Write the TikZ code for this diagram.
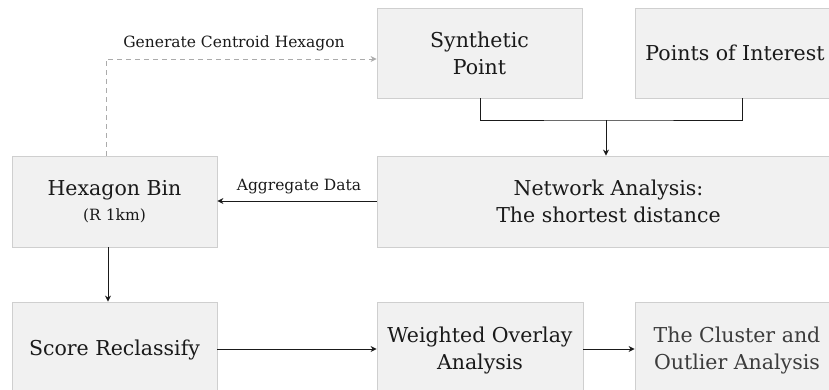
\documentclass[tikz,border=0pt]{standalone}
\usepackage{fontspec}
\setmainfont{DejaVu Serif}
\usetikzlibrary{arrows.meta}
\definecolor{boxfill}{HTML}{F1F1F1}
\definecolor{boxline}{HTML}{CFCFCF}
\definecolor{txt}{HTML}{1A1A1A}
\definecolor{dashc}{HTML}{ABABAB}
\tikzset{
  procbox/.style={draw=boxline, line width=0.8pt, fill=boxfill, text=txt, align=center,
    inner sep=0pt, font=\fontsize{20.5}{27}\selectfont},
  conn/.style={line width=1pt, draw=txt, -{Stealth[length=6pt,width=6pt]}},
  plainconn/.style={line width=1pt, draw=txt},
  dashconn/.style={line width=1pt, draw=dashc, dash pattern=on 5pt off 4pt, -{Stealth[length=6pt,width=6pt]}},
  lbl/.style={text=txt, font=\fontsize{15.5}{19}\selectfont},
}
\begin{document}
\begin{tikzpicture}[x=1pt,y=-1pt]
\useasboundingbox (0,0) rectangle (829,389);
\clip (0,0) rectangle (829,389);
% boxes
\node[procbox, minimum width=205, minimum height=90] (syn) at (479.5,53) {Synthetic\\Point};
\node[procbox, minimum width=200, minimum height=90] (poi) at (735,53) {Points of Interest};
\node[procbox, minimum width=463, minimum height=91] (net) at (608.5,201.5) {Network Analysis:\\The shortest distance};
\node[procbox, minimum width=205, minimum height=91] (hex) at (114.5,201.5) {Hexagon Bin\\[-2pt]{\fontsize{15.5}{18}\selectfont (R 1km)}};
\node[procbox, minimum width=205, minimum height=96] (score) at (114.5,350) {Score Reclassify};
\node[procbox, minimum width=206, minimum height=96] (wov) at (480,350) {Weighted Overlay\\Analysis};
\node[procbox, minimum width=204, minimum height=96, text=txt!85] (clu) at (737,350) {The Cluster and\\Outlier Analysis};
% junction
\coordinate (jn) at (606,120);
\draw[plainconn] (syn.south -| 480,0) |- (jn) -| (poi.south -| 742,0);
\draw[conn] (jn) -- (jn |- net.north);
% dashed generate
\coordinate (dtop) at (106,59);
\draw[dashconn] (hex.north -| dtop) -- (dtop) -- (syn.west |- dtop);
\node[lbl] (glbl) at (234,43) {Generate Centroid Hexagon};
% aggregate
\draw[conn] (net.west |- 0,201) -- (hex.east |- 0,201);
\node[lbl] (albl) at (299,187) {Aggregate Data};
% down to score
\draw[conn] (hex.south -| 108,0) -- (score.north -| 108,0);
% bottom row
\draw[conn] (score.east |- 0,349) -- (wov.west |- 0,349);
\draw[conn] (wov.east |- 0,349) -- (clu.west |- 0,349);
\end{tikzpicture}
\end{document}
